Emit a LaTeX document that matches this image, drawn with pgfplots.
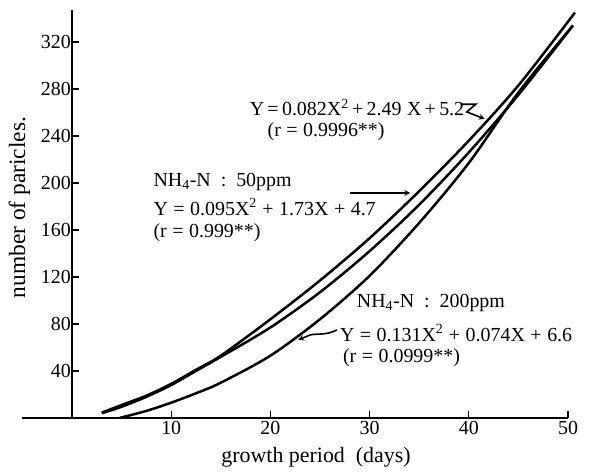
\documentclass[border=0pt]{standalone}
\usepackage{fontspec}
\setmainfont{Liberation Serif}
\usepackage{pgfplots}
\pgfplotsset{compat=1.18}

\pgfplotstableread{
x y
3 4.5
5 11
7.5 19
10 29
12.5 41
15 53
20 84
25 117
30 153
35 193
40 236
45 283
50.7 345
}\curveA

\pgfplotstableread{
x y
3 4
5 9.5
7.5 18
10 28
12.5 40
15 52
20 77
25 107
30 142
35 181.5
40 226
45 275
50.5 334
}\curveB

\pgfplotstableread{
x y
4.8 0
7.5 6
10 13
12.5 21
15 30
20 53
25 84
30 121
35 166
40 217
45 277
50.5 334
}\curveC

\begin{document}
\begin{tikzpicture}
\begin{axis}[
    x=9.92bp, y=1.175bp,
    axis lines=middle,
    axis line style={-, line width=1.6bp},
    xmin=-5, xmax=50, ymin=0, ymax=347,
    xtick={10,20,30,40,50},
    ytick={40,80,...,320},
    tick align=inside,
    major tick length=7bp,
    tick style={line width=1.2bp, black},
    /pgf/number format/assume math mode=true,
    ticklabel style={font=\fontsize{20}{22}\selectfont},
    yticklabel style={inner sep=1bp},
    xticklabel style={inner sep=3bp},
    clip=false,
    xlabel={growth period\enspace(days)},
    ylabel={number of paricles.},
    every axis x label/.style={at={(axis cs:24.6,-33.2)}, anchor=center, font=\fontsize{22}{24}\selectfont},
    every axis y label/.style={at={(axis cs:-5.3,179)}, anchor=center, rotate=90, font=\fontsize{23.5}{25}\selectfont},
]
\addplot[black, line width=2.5bp, smooth] table {\curveA};
\addplot[black, line width=2.5bp, smooth] table {\curveB};
\addplot[black, line width=2.5bp, smooth] table {\curveC};

\begin{scope}[every node/.style={font=\fontsize{20}{22}\selectfont, anchor=west, inner sep=0pt}]
\node at (axis cs:17.9,264) {Y\,=\,0.082X\textsuperscript{2}\,+\,2.49\;X\,+\,5.2};
\node at (axis cs:19.7,244) {(r\;=\;0.9996**)};
\node at (axis cs:8.2,201) {NH\textsubscript{4}-N\enspace:\enspace50ppm};
\node at (axis cs:8.2,179.6) {Y\;=\;0.095X\textsuperscript{2}\;+\;1.73X\;+\;4.7};
\node at (axis cs:8.2,157.4) {(r\;=\;0.999**)};
\node at (axis cs:28.7,98) {NH\textsubscript{4}-N\enspace:\enspace200ppm};
\node at (axis cs:27.0,72.3) {Y\;=\;0.131X\textsuperscript{2}\;+\;0.074X\;+\;6.6};
\node at (axis cs:27.3,51) {(r\;=\;0.0999**)};
\end{scope}

\draw[line width=1.6bp, -stealth] (axis cs:39.2,267) -- (axis cs:40.7,267) -- (axis cs:39.8,260.4) -- (axis cs:41.6,254.5);
\draw[line width=1.6bp, -stealth] (axis cs:28.0,191.5) -- (axis cs:34.1,191.5);
\draw[line width=1.6bp, -stealth] (axis cs:26.7,74.9) .. controls (axis cs:25.6,70) and (axis cs:24.6,72) .. (axis cs:24.0,70.6) -- (axis cs:22.8,66.4);

\coordinate (bl) at (axis cs:-7.26,-46.8);
\coordinate (tr) at (axis cs:52.52,355.7);
\end{axis}
\pgfresetboundingbox
\path[use as bounding box] (bl) rectangle (tr);
\end{tikzpicture}
\end{document}
